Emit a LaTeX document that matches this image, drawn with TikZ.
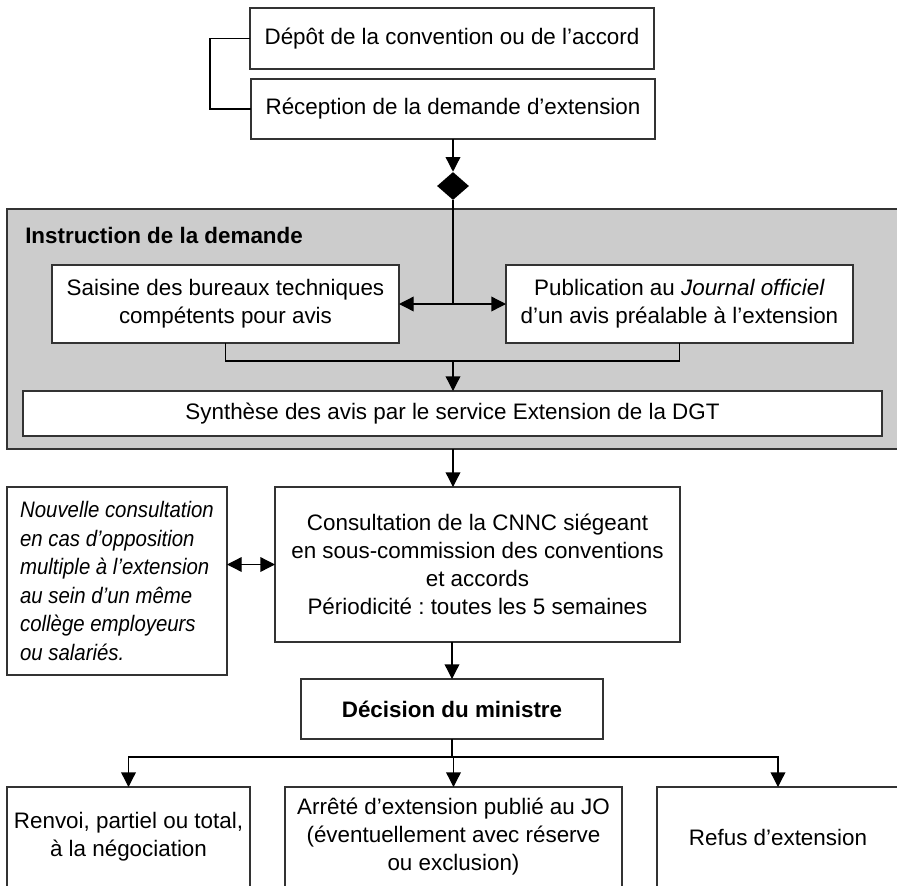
\documentclass[tikz,border=0pt]{standalone}
\usepackage{fontspec}
\setmainfont{Liberation Sans}
\usetikzlibrary{shapes.geometric,arrows.meta}
\definecolor{panelgray}{RGB}{204,204,204}
\definecolor{boxline}{RGB}{51,51,51}
\newcommand{\dfont}{\fontsize{16.8}{21}\selectfont}
\frenchspacing

\begin{document}
\begin{tikzpicture}[x=0.75pt,y=0.75pt,yscale=-1,xscale=1,font=\dfont,
    box/.style={draw=boxline,line width=0.8pt,fill=white,inner sep=0pt,outer sep=0pt,align=center},
    link/.style={line width=1pt},
    arr/.style={link,-{Triangle[length=11pt,width=11pt]}}]
    %set diagram left start at 0, and has height of 886
    \useasboundingbox (0,0) rectangle (897,886);
    \clip (0,0) rectangle (897,886);

    %Shape: Rectangle [grey panel]
    \node [draw=boxline,line width=1.5pt,fill=panelgray,inner sep=0pt,outer sep=0pt,minimum width=673.5pt,minimum height=180pt] (instr) at (456,329) {};

    % Text Node
    \node [box,minimum width=303pt,minimum height=45.75pt] (dep) at (452,38.5) {Dépôt de la convention ou de l’accord};
    % Text Node
    \node [box,minimum width=303pt,minimum height=45pt] (rec) at (453,109) {Réception de la demande d’extension};
    %Shape: Diamond
    \node [diamond,fill=black,inner sep=0pt,minimum width=24pt,minimum height=21pt] (dia) at (453,186) {};
    % Text Node
    \node [anchor=base west,inner sep=0pt] (titre) at (25,243) {\textbf{Instruction de la demande}};
    % Text Node
    \node [box,minimum width=260.25pt,minimum height=58.5pt] (sais) at (225.5,304) {Saisine des bureaux techniques\\compétents pour avis};
    % Text Node
    \node [box,minimum width=260.25pt,minimum height=58.5pt] (publi) at (679.5,304) {Publication au \textit{Journal officiel}\\d’un avis préalable à l’extension};
    % Text Node
    \node [box,minimum width=644.25pt,minimum height=33.75pt] (synth) at (452.5,413.5) {Synthèse des avis par le service Extension de la DGT};
    % Text Node
    \node [box,minimum width=303.75pt,minimum height=116.25pt] (consult) at (477.5,564.5) {Consultation de la CNNC siégeant\\en sous-commission des conventions\\et accords\hspace*{42pt}\\Périodicité : toutes les 5 semaines};
    % Text Node
    \node [box,align=left,font=\fontsize{16.8}{21.4}\selectfont\itshape\addfontfeatures{FakeStretch=0.91},minimum width=165pt,minimum height=141pt] (note) at (117,581) {Nouvelle consultation\\en cas d’opposition\\multiple à l’extension\\au sein d’un même\\collège employeurs\\ou salariés.};
    % Text Node
    \node [box,minimum width=226.5pt,minimum height=45pt] (decis) at (452,709) {\textbf{Décision du ministre}};
    % Text Node
    \node [box,minimum width=182.25pt,minimum height=75pt] (renv) at (128.5,837) {Renvoi, partiel ou total,\\à la négociation};
    % Text Node
    \node [box,minimum width=252.75pt,minimum height=75pt] (arrete) at (453.5,837) {Arrêté d’extension publié au JO\\(éventuellement avec réserve\\ou exclusion)};
    % Text Node
    \node [box,minimum width=181.5pt,minimum height=75pt] (refus) at (778,837) {Refus d’extension};

    \coordinate (join) at (453,361);
    \coordinate (split) at (452,757);

    %Straight Lines
    \draw [link] (dep.west) -- ++(-40,0) |- (rec.west);
    \draw [arr] (rec.south) -- (dia.north);
    \draw [link] (dia.south) -- (dia |- sais.east);
    \draw [arr] (dia |- sais.east) -- (sais.east);
    \draw [arr] (dia |- sais.east) -- (publi.west);
    \draw [link] (sais.south) |- (join) -| (publi.south);
    \draw [arr] (join) -- (join |- synth.north);
    \draw [arr] (instr.south -| dia) -- (consult.north -| dia);
    \draw [link,{Triangle[length=11pt,width=11pt]}-{Triangle[length=11pt,width=11pt]}] (consult.west -| note.east) -- (consult.west);
    \draw [arr] (consult.south -| decis.north) -- (decis.north);
    \draw [link] (decis.south) -- (split);
    \draw [arr] (split) -| (renv.north);
    \draw [arr] (split) -| (refus.north);
    \draw [arr] (split) -- (split -| arrete.north) -- (arrete.north);

\end{tikzpicture}
\end{document}
